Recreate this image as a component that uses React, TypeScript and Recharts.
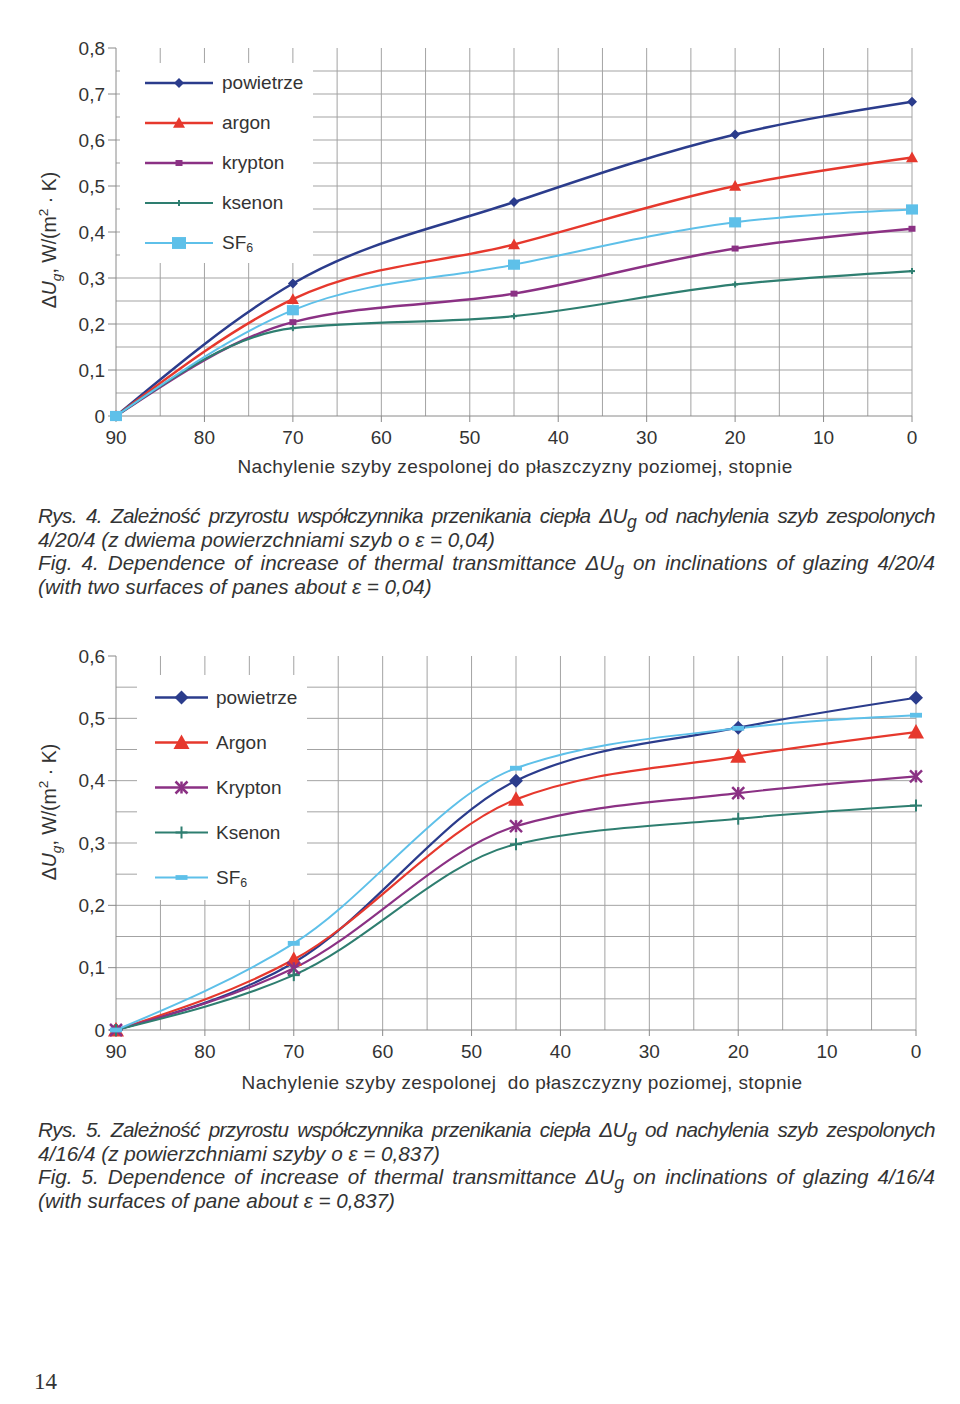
import React from 'react';
import { LineChart, Line, XAxis, YAxis, CartesianGrid, Legend } from 'recharts';

// kąty nachylenia (oś X), stopnie
const angles = [90, 70, 45, 20, 0];
const xTicks = [90, 80, 70, 60, 50, 40, 30, 20, 10, 0];
const xGrid = [85, 80, 75, 70, 65, 60, 55, 50, 45, 40, 35, 30, 25, 20, 15, 10, 5, 0];

// Rys. 4 – szyba 4/20/4, e = 0,04
const powietrze4 = [0, 0.288, 0.465, 0.612, 0.683];
const argon4 = [0, 0.254, 0.373, 0.5, 0.562];
const krypton4 = [0, 0.204, 0.266, 0.364, 0.407];
const ksenon4 = [0, 0.191, 0.217, 0.286, 0.315];
const sf64 = [0, 0.23, 0.329, 0.421, 0.449];
const yTicks4 = [0, 0.1, 0.2, 0.3, 0.4, 0.5, 0.6, 0.7, 0.8];
const yGrid4 = [0.05, 0.1, 0.15, 0.2, 0.25, 0.3, 0.35, 0.4, 0.45, 0.5, 0.55, 0.6, 0.65, 0.7, 0.75];

// Rys. 5 – szyba 4/16/4, e = 0,837
const powietrze5 = [0, 0.108, 0.4, 0.485, 0.533];
const argon5 = [0, 0.113, 0.37, 0.439, 0.478];
const krypton5 = [0, 0.099, 0.327, 0.38, 0.407];
const ksenon5 = [0, 0.088, 0.298, 0.339, 0.36];
const sf65 = [0, 0.139, 0.42, 0.484, 0.505];
const yTicks5 = [0, 0.1, 0.2, 0.3, 0.4, 0.5, 0.6];
const yGrid5 = [0.05, 0.1, 0.15, 0.2, 0.25, 0.3, 0.35, 0.4, 0.45, 0.5, 0.55];

const legend4 = ['powietrze', 'argon', 'krypton', 'ksenon', 'SF6'];
const legend5 = ['powietrze', 'Argon', 'Krypton', 'Ksenon', 'SF6'];

const buildRows = (cols: number[][]) =>
  angles.map((a, i) => ({
    angle: a,
    powietrze: cols[0][i],
    argon: cols[1][i],
    krypton: cols[2][i],
    ksenon: cols[3][i],
    sf6: cols[4][i],
  }));

const rows4 = buildRows([powietrze4, argon4, krypton4, ksenon4, sf64]);
const rows5 = buildRows([powietrze5, argon5, krypton5, ksenon5, sf65]);

const FONT = '"Liberation Sans", Arial, Helvetica, sans-serif';
const TEXT = '#333';
const GRID = '#a3a3a3';

const COLORS: Record<string, string> = {
  powietrze: '#2b3c8c',
  argon: '#e6382d',
  krypton: '#8b3184',
  ksenon: '#2e7e70',
  sf6: '#5ec0e9',
};
const KEYS = ['powietrze', 'argon', 'krypton', 'ksenon', 'sf6'];

type MarkerDef = { shape: string; s: number; width: number };

const Marker = ({ shape, x, y, s, color }: { shape: string; x: number; y: number; s: number; color: string }) => {
  switch (shape) {
    case 'diamond':
      return <polygon points={`${x},${y - s} ${x + s},${y} ${x},${y + s} ${x - s},${y}`} fill={color} />;
    case 'triangle':
      return <polygon points={`${x},${y - s} ${x + s},${y + s * 0.8} ${x - s},${y + s * 0.8}`} fill={color} />;
    case 'square':
      return <rect x={x - s} y={y - s * 0.85} width={2 * s} height={1.7 * s} fill={color} />;
    case 'dash':
      return <rect x={x - s} y={y - s * 0.4} width={2 * s} height={s * 0.8} fill={color} />;
    case 'star':
      return (
        <g stroke={color} strokeWidth={2.5}>
          <line x1={x - s} y1={y - s} x2={x + s} y2={y + s} />
          <line x1={x - s} y1={y + s} x2={x + s} y2={y - s} />
          <line x1={x} y1={y - s} x2={x} y2={y + s} />
        </g>
      );
    case 'plus':
      return (
        <g stroke={color} strokeWidth={2}>
          <line x1={x - s} y1={y} x2={x + s} y2={y} />
          <line x1={x} y1={y - s} x2={x} y2={y + s} />
        </g>
      );
    default:
      return null;
  }
};

const dotFor = (key: string, m: MarkerDef) => (props: any) => {
  const { cx, cy, index } = props;
  if (cx == null || cy == null) return <g key={`${key}-${index}`} />;
  return (
    <g key={`${key}-${index}`}>
      <Marker shape={m.shape} x={cx} y={cy} s={m.s} color={COLORS[key]} />
    </g>
  );
};

const fmtY = (v: number) => (v === 0 ? '0' : v.toFixed(1).replace('.', ','));

const SF6 = () => (
  <>
    SF<sub style={{ fontSize: '0.65em', verticalAlign: '-0.25em' }}>6</sub>
  </>
);

type ChartProps = {
  top: number;
  rows: any[];
  yMax: number;
  yTicks: number[];
  yGrid: number[];
  margin: { top: number; right: number; bottom: number; left: number };
  markers: Record<string, MarkerDef>;
  legendMarkers: Record<string, MarkerDef>;
  labels: string[];
  legendBox: { left: number; top: number; width: number; row: number; lineLeft: number; lineLen: number; textLeft: number };
  yLabelY: number;
  xLabel: string;
  xLabelX: number;
  xLabelY: number;
};

const Chart = (p: ChartProps) => {
  const lb = p.legendBox;
  const renderLegend = () => (
    <div style={{ fontFamily: FONT, fontSize: 19, color: TEXT, position: 'relative', height: lb.row * 5 }}>
      {KEYS.map((k, i) => {
        const m = p.legendMarkers[k];
        const h = lb.row;
        return (
          <div key={k} style={{ position: 'absolute', left: 0, top: i * h, height: h, width: lb.width }}>
            <svg width={lb.lineLen + 4} height={h} style={{ position: 'absolute', left: lb.lineLeft - 2, top: 0 }}>
              <line x1={2} y1={h / 2} x2={lb.lineLen + 2} y2={h / 2} stroke={COLORS[k]} strokeWidth={m.width} />
              <Marker shape={m.shape} x={lb.lineLen / 2 + 2} y={h / 2} s={m.s} color={COLORS[k]} />
            </svg>
            <span style={{ position: 'absolute', left: lb.textLeft, top: 0, lineHeight: `${h}px`, whiteSpace: 'nowrap' }}>
              {k === 'sf6' ? <SF6 /> : p.labels[i]}
            </span>
          </div>
        );
      })}
    </div>
  );

  return (
    <div style={{ position: 'absolute', left: 0, top: p.top, width: 960, height: 500 }}>
      <LineChart width={960} height={500} data={p.rows} margin={p.margin}>
        <CartesianGrid
          stroke={GRID}
          strokeWidth={1}
          horizontalValues={p.yGrid}
          verticalValues={xGrid}
        />
        <XAxis
          dataKey="angle"
          type="number"
          domain={[0, 90]}
          reversed
          ticks={xTicks}
          interval={0}
          height={30}
          tickSize={6}
          tickMargin={9}
          axisLine={{ stroke: '#8a8a8a' }}
          tickLine={{ stroke: '#8a8a8a' }}
          tick={{ fill: TEXT, fontSize: 19, fontFamily: FONT }}
        />
        <YAxis
          type="number"
          domain={[0, p.yMax]}
          ticks={p.yTicks}
          interval={0}
          width={60}
          tickSize={8}
          tickMargin={3}
          tickFormatter={fmtY}
          axisLine={{ stroke: '#8a8a8a' }}
          tickLine={{ stroke: '#8a8a8a' }}
          tick={{ fill: TEXT, fontSize: 19, fontFamily: FONT }}
        />
        <Legend
          layout="vertical"
          align="center"
          verticalAlign="middle"
          content={renderLegend}
          wrapperStyle={{ left: lb.left, top: lb.top, width: lb.width, height: lb.row * 5, background: '#fff' }}
        />
        {KEYS.map((k) => (
          <Line
            key={k}
            type="monotone"
            dataKey={k}
            name={k}
            stroke={COLORS[k]}
            strokeWidth={p.markers[k].width}
            dot={dotFor(k, p.markers[k])}
            activeDot={false}
            isAnimationActive={false}
          />
        ))}
      </LineChart>
      <div
        style={{
          position: 'absolute',
          left: 50,
          top: p.yLabelY,
          transform: 'translate(-50%, -50%) rotate(-90deg)',
          whiteSpace: 'nowrap',
          fontFamily: FONT,
          fontSize: 19.5,
          color: TEXT,
        }}
      >
        Δ<i>U</i>
        <sub style={{ fontSize: '0.7em', fontStyle: 'italic' }}>g</sub>, W/(m
        <sup style={{ fontSize: '0.7em' }}>2</sup> · K)
      </div>
      <div
        style={{
          position: 'absolute',
          left: p.xLabelX,
          top: p.xLabelY,
          transform: 'translate(-50%, -50%)',
          whiteSpace: 'pre',
          fontFamily: FONT,
          fontSize: 19,
          letterSpacing: 0.4,
          color: TEXT,
        }}
      >
        {p.xLabel}
      </div>
    </div>
  );
};

const dU = (
  <>
    Δ<span>U</span>
    <span style={{ position: 'relative', top: '0.3em', fontSize: '0.85em' }}>g</span>
  </>
);

const capLine = (i: number): React.CSSProperties => ({
  whiteSpace: 'nowrap',
  textAlign: i % 2 === 0 ? 'justify' : 'left',
  textAlignLast: i % 2 === 0 ? 'justify' : 'left',
  letterSpacing: i === 0 ? -0.6 : 0,
  height: 23.5,
  lineHeight: '23.5px',
});

const Caption = ({ top, lines }: { top: number; lines: React.ReactNode[] }) => (
  <div
    style={{
      position: 'absolute',
      left: 38,
      top,
      width: 897,
      fontFamily: FONT,
      fontStyle: 'italic',
      fontSize: 20.7,
      color: TEXT,
    }}
  >
    {lines.map((l, i) => (
      <div key={i} style={capLine(i)}>
        {l}
      </div>
    ))}
  </div>
);

export default function App() {
  return (
    <div style={{ position: 'absolute', left: 0, top: 0, width: 960, height: 1404, background: '#fff', overflow: 'hidden' }}>
      <Chart
        top={0}
        rows={rows4}
        yMax={0.8}
        yTicks={yTicks4}
        yGrid={yGrid4}
        margin={{ top: 48, right: 48, bottom: 54, left: 56 }}
        markers={{
          powietrze: { shape: 'diamond', s: 5, width: 2.5 },
          argon: { shape: 'triangle', s: 6, width: 2.5 },
          krypton: { shape: 'square', s: 3.5, width: 2.5 },
          ksenon: { shape: 'plus', s: 3, width: 2.2 },
          sf6: { shape: 'square', s: 6, width: 2 },
        }}
        legendMarkers={{
          powietrze: { shape: 'diamond', s: 5, width: 2.5 },
          argon: { shape: 'triangle', s: 6, width: 2.5 },
          krypton: { shape: 'square', s: 3.5, width: 2.5 },
          ksenon: { shape: 'plus', s: 3, width: 2.2 },
          sf6: { shape: 'square', s: 7, width: 2 },
        }}
        labels={legend4}
        legendBox={{ left: 120, top: 63, width: 193, row: 40, lineLeft: 25, lineLen: 68, textLeft: 102 }}
        yLabelY={240}
        xLabel="Nachylenie szyby zespolonej do płaszczyzny poziomej, stopnie"
        xLabelX={515}
        xLabelY={467}
      />
      <Caption
        top={504}
        lines={[
          <>Rys. 4. Zależność przyrostu współczynnika przenikania ciepła {dU} od nachylenia szyb zespolonych</>,
          <>4/20/4 (z dwiema powierzchniami szyb o ε = 0,04)</>,
          <>Fig. 4. Dependence of increase of thermal transmittance {dU} on inclinations of glazing 4/20/4</>,
          <>(with two surfaces of panes about ε = 0,04)</>,
        ]}
      />
      <Chart
        top={600}
        rows={rows5}
        yMax={0.6}
        yTicks={yTicks5}
        yGrid={yGrid5}
        margin={{ top: 56, right: 44, bottom: 40, left: 56 }}
        markers={{
          powietrze: { shape: 'diamond', s: 7, width: 2.2 },
          argon: { shape: 'triangle', s: 8, width: 2.2 },
          krypton: { shape: 'star', s: 6, width: 2.2 },
          ksenon: { shape: 'plus', s: 6, width: 2 },
          sf6: { shape: 'dash', s: 6, width: 2 },
        }}
        legendMarkers={{
          powietrze: { shape: 'diamond', s: 7, width: 2.5 },
          argon: { shape: 'triangle', s: 8, width: 2.5 },
          krypton: { shape: 'star', s: 6, width: 2.5 },
          ksenon: { shape: 'plus', s: 6, width: 2 },
          sf6: { shape: 'dash', s: 6, width: 2 },
        }}
        labels={legend5}
        legendBox={{ left: 137, top: 75, width: 170, row: 45, lineLeft: 18, lineLen: 53, textLeft: 79 }}
        yLabelY={212}
        xLabel="Nachylenie szyby zespolonej  do płaszczyzny poziomej, stopnie"
        xLabelX={522}
        xLabelY={483}
      />
      <Caption
        top={1118}
        lines={[
          <>Rys. 5. Zależność przyrostu współczynnika przenikania ciepła {dU} od nachylenia szyb zespolonych</>,
          <>4/16/4 (z powierzchniami szyby o ε = 0,837)</>,
          <>Fig. 5. Dependence of increase of thermal transmittance {dU} on inclinations of glazing 4/16/4</>,
          <>(with surfaces of pane about ε = 0,837)</>,
        ]}
      />
      <div
        style={{
          position: 'absolute',
          left: 34,
          top: 1369,
          fontFamily: '"Liberation Serif", "Times New Roman", serif',
          fontSize: 23,
          color: TEXT,
        }}
      >
        14
      </div>
    </div>
  );
}
